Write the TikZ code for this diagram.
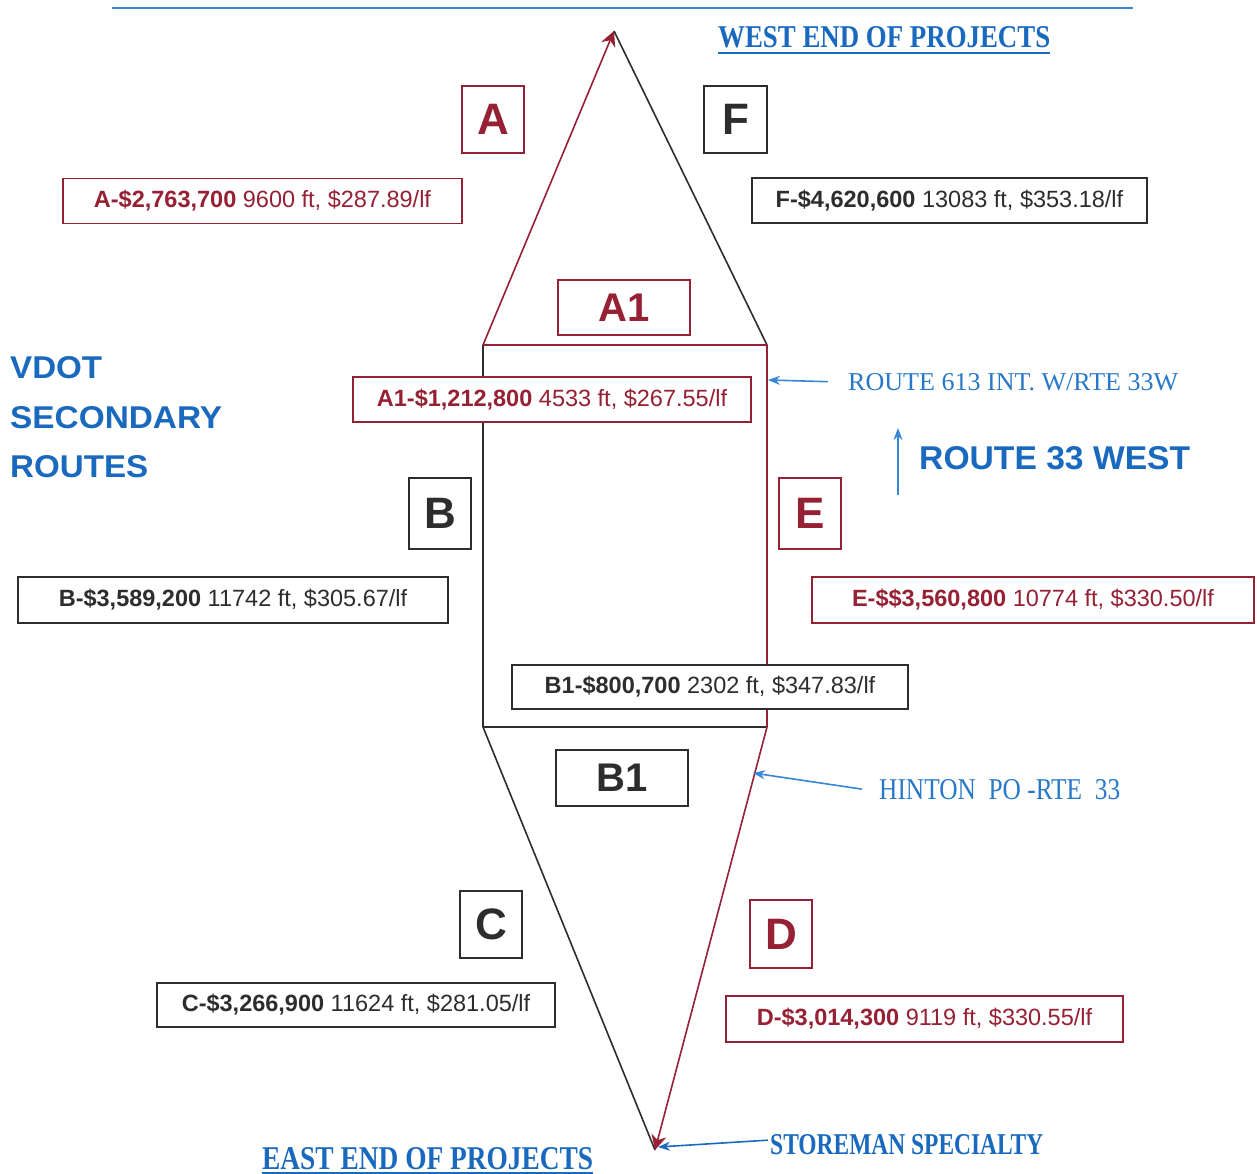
\documentclass[tikz,border=0pt]{standalone}
\usepackage{fontspec}
\setmainfont{Liberation Serif}
\setsansfont{Liberation Sans}
\usepackage{graphicx}
\usetikzlibrary{arrows.meta}
\definecolor{dred}{RGB}{150,32,52}
\definecolor{dgray}{RGB}{45,45,45}
\definecolor{rblue}{RGB}{25,105,190}
\definecolor{lblue}{RGB}{55,135,215}
\definecolor{mblue}{RGB}{40,120,200}
\begin{document}
\begin{tikzpicture}[x=1pt,y=-1pt,
  edge/.style={line width=1.6pt},
  letterbox/.style={draw, fill=white, line width=1.4pt, inner sep=0pt,
    font=\sffamily\bfseries\fontsize{44}{44}\selectfont},
  infobox/.style={draw, fill=white, line width=1.4pt, inner sep=0pt,
    minimum height=45pt, font=\sffamily\fontsize{23.5}{23.5}\selectfont},
  redbox/.style={draw=dred, text=dred},
  blkbox/.style={draw=dgray, text=dgray},
  note/.style={inner sep=0pt, anchor=base west, text=mblue},
  apextip/.style={-{Stealth[length=15pt,width=15pt]}},
  bluearrow/.style={lblue, line width=1.6pt, -{Stealth[length=12pt,width=9pt]}}
]
\useasboundingbox (0,0) rectangle (1257,1174);
\fill[white] (0,0) rectangle (1257,1174);

% top rule
\coordinate (ruleL) at (112,8);
\coordinate (ruleR) at (1133,8);
\draw[lblue, line width=1.8pt] (ruleL) -- (ruleR);

% frame points
\coordinate (T) at (614,31);
\coordinate (RTL) at (483,345);
\coordinate (RTR) at (767,345);
\coordinate (RBL) at (483,727);
\coordinate (RBR) at (767,727);
\coordinate (Bt) at (655,1150);

% edges
\draw[edge, dgray] (T) -- (RTR);
\draw[edge, dred, apextip] (RTL) -- (T);
\draw[edge, dred] (RTL) -- (RTR);
\draw[edge, dgray] (RTL) -- (RBL);
\draw[edge, dred] (RTR) -- (RBR);
\draw[edge, dgray, line width=2pt] (RBL) -- (RBR);
\draw[edge, dgray] (RBL) -- (Bt);
\draw[edge, dred, apextip] (RBR) -- (Bt);

% letter boxes
\node[letterbox, redbox, minimum width=62pt, minimum height=67pt] (lA) at (493,119.5) {A};
\node[letterbox, blkbox, minimum width=63pt, minimum height=67pt] (lF) at (735.5,119.5) {F};
\node[letterbox, redbox, minimum width=132pt, minimum height=55pt, font=\sffamily\bfseries\fontsize{40}{40}\selectfont] (lA1) at (624,307.5) {A1};
\node[letterbox, blkbox, minimum width=62pt, minimum height=71pt] (lB) at (440,513.5) {B};
\node[letterbox, redbox, minimum width=62pt, minimum height=71pt] (lE) at (810,513.5) {E};
\node[letterbox, blkbox, minimum width=132pt, minimum height=56pt, font=\sffamily\bfseries\fontsize{40}{40}\selectfont] (lB1) at (622,778) {B1};
\node[letterbox, blkbox, minimum width=62pt, minimum height=67pt] (lC) at (491,924.5) {C};
\node[letterbox, redbox, minimum width=62pt, minimum height=68pt] (lD) at (781,934) {D};

% info boxes
\node[infobox, redbox, minimum width=399pt] (iA) at (262.5,201) {\textbf{A-\$2,763,700} 9600 ft, \$287.89/lf};
\node[infobox, blkbox, minimum width=395pt] (iF) at (949.5,200.5) {\textbf{F-\$4,620,600} 13083 ft, \$353.18/lf};
\node[infobox, redbox, minimum width=398pt] (iA1) at (552,399.5) {\textbf{A1-\$1,212,800} 4533 ft, \$267.55/lf};
\node[infobox, blkbox, minimum width=430pt, minimum height=46pt] (iB) at (233,600) {\textbf{B-\$3,589,200} 11742 ft, \$305.67/lf};
\node[infobox, redbox, minimum width=442pt, minimum height=46pt] (iE) at (1033,600) {\textbf{E-\$\$3,560,800} 10774 ft, \$330.50/lf};
\node[infobox, blkbox, minimum width=396pt, minimum height=44pt] (iB1) at (710,687) {\textbf{B1-\$800,700} 2302 ft, \$347.83/lf};
\node[infobox, blkbox, minimum width=398pt, minimum height=44pt] (iC) at (356,1005) {\textbf{C-\$3,266,900} 11624 ft, \$281.05/lf};
\node[infobox, redbox, minimum width=397pt, minimum height=46pt] (iD) at (924.5,1019) {\textbf{D-\$3,014,300} 9119 ft, \$330.55/lf};

% headings
\node[note, text=rblue] (west) at (718,48) {\resizebox{332pt}{21pt}{\bfseries WEST END OF PROJECTS}};
\draw[rblue, line width=1.6pt] ([yshift=-5pt]west.base west) -- ([yshift=-5pt]west.base east);
\node[note, text=rblue] (east) at (262,1169) {\resizebox{331pt}{22pt}{\bfseries EAST END OF PROJECTS}};
\draw[rblue, line width=1.6pt] ([yshift=-4pt]east.base west) -- ([yshift=-4pt]east.base east);

\node[note, text=rblue] (vdot1) at (10,378) {\resizebox{92pt}{22pt}{\sffamily\bfseries VDOT}};
\node[note, text=rblue] (vdot2) at (10,428) {\resizebox{212pt}{22pt}{\sffamily\bfseries SECONDARY}};
\node[note, text=rblue] (vdot3) at (10,477) {\resizebox{138pt}{22pt}{\sffamily\bfseries ROUTES}};

\node[note, text=rblue] (r33) at (919,469) {\resizebox{271pt}{23pt}{\sffamily\bfseries ROUTE 33 WEST}};
\coordinate (up0) at (898,495);
\coordinate (up1) at (898,428);
\draw[bluearrow] (up0) -- (up1);

\node[note] (r613) at (848,390) {\resizebox{330pt}{17pt}{ROUTE 613 INT. W/RTE 33W}};
\coordinate (p613) at (768,380);
\draw[bluearrow] ([xshift=-20pt]r613.west) -- (p613);

\node[note] (hint) at (879,799) {\resizebox{241pt}{20pt}{HINTON\ \ PO\ -RTE\ \ 33}};
\coordinate (phint) at (753,773);
\draw[bluearrow] ([xshift=-17pt]hint.west) -- (phint);

\node[note, text=rblue] (store) at (770,1154) {\resizebox{273pt}{20pt}{\bfseries STOREMAN SPECIALTY}};
\coordinate (pstore) at (658,1147);
\draw[bluearrow, rblue] ([xshift=-2pt,yshift=4pt]store.west) -- (pstore);
\end{tikzpicture}
\end{document}
